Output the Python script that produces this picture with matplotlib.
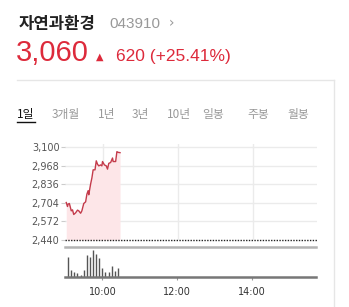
import matplotlib
matplotlib.use("Agg")
import matplotlib.pyplot as plt
from matplotlib.lines import Line2D

# stock header
name = "자연과환경"
code = "043910"
price_now = "3,060"
change = "620 (+25.41%)"
tabs = ["1일", "3개월", "1년", "3년", "10년", "일봉", "주봉", "월봉"]

# intraday price, minutes after 9:00
minutes = [2, 4, 5, 7, 10, 12, 14, 17, 20, 22, 25, 27, 30, 33, 35, 37, 38, 41, 43,
           45, 48, 50, 52, 54, 57, 59, 60, 63, 66, 68, 70, 73, 76, 77, 81, 83, 85, 88]
prices = [2706, 2678, 2695, 2699, 2647, 2654, 2621, 2633, 2652, 2647, 2630, 2647,
          2699, 2711, 2765, 2790, 2761, 2838, 2880, 2938, 2938, 3002, 2978, 2966,
          2973, 2966, 2997, 2973, 2966, 2943, 2984, 2990, 3022, 2997, 2997, 3067,
          3062, 3060]
yticks = [2440, 2572, 2704, 2836, 2968, 3100]

# 5 minute volume bars (9:05 .. 10:25)
vol_minutes = [5, 10, 15, 20, 25, 30, 35, 40, 45, 50, 55, 60, 65, 70, 75, 80, 85]
volumes = [200, 70, 50, 37, 20, 70, 220, 200, 270, 230, 190, 87, 50, 50, 110, 60, 93]

xtick_pos = [60, 180, 300]
xtick_lab = ["10:00", "12:00", "14:00"]

W, H = 349, 307
fig = plt.figure(figsize=(W / 100, H / 100), dpi=100)
fig.patch.set_facecolor("white")

def fx(px):
    return px / W

def fy(py):
    return 1 - py / H

red = "#dd2a3b"
kr = ["Noto Sans CJK KR", "DejaVu Sans"]

# header text
fig.text(fx(19), fy(24), name, family=kr, fontsize=12, fontweight="bold", color="#222", va="center")
fig.text(fx(109), fy(24), code, family="Liberation Sans", fontsize=11, color="#999", va="center")
fig.text(fx(169), fy(23), "›", family="DejaVu Sans", fontsize=10, color="#999", va="center")
fig.text(fx(16), fy(53), price_now, family="Liberation Sans", fontsize=21, color=red, va="center")
fig.text(fx(96), fy(57), "▲", family="DejaVu Sans", fontsize=7, color=red, va="center")
fig.text(fx(116), fy(57), change, family="Liberation Sans", fontsize=12.5, color=red, va="center")

# tabs
tab_x = [17, 52, 98, 132, 167, 202, 247, 287]
for t, x in zip(tabs, tab_x):
    c = "#111" if t == "1일" else "#999"
    fig.text(fx(x), fy(115), t, family=kr, fontsize=8.5, color=c, va="center")
fig.add_artist(Line2D([fx(17), fx(35)], [fy(121.5), fy(121.5)], color="#111", lw=1))

# box lines
fig.add_artist(Line2D([fx(17), fx(334)], [fy(80), fy(80)], color="#e6e6e6", lw=1))
fig.add_artist(Line2D([fx(334), fx(334)], [fy(80), fy(307)], color="#e6e6e6", lw=1))

# price panel
left, right = 65, 317
ax = fig.add_axes([fx(left), fy(240), (right - left) / W, (240 - 144) / H])
ax.set_xlim(0, 403)
ax.set_ylim(2440, 3100 + 132 * 3 / 18.5)
for v in yticks[1:]:
    ax.axhline(v, color="#ebebeb", lw=1, zorder=0)
for m in xtick_pos:
    ax.axvline(m, color="#ebebeb", lw=1, zorder=0)
ax.fill_between(minutes, prices, 2440, color="#fde6e8", lw=0, zorder=1)
ax.plot(minutes, prices, color="#c43a4a", lw=1, zorder=2)
ax.axhline(2440, color="#222", lw=1, ls=(0, (1, 1)), zorder=3, clip_on=False)
ax.set_yticks(yticks)
ax.set_yticklabels([f"{v:,}" for v in yticks])
ax.tick_params(axis="y", length=3, width=0.8, color="#ccc", pad=1, labelsize=7, labelcolor="#555")
ax.set_xticks([])
for s in ax.spines.values():
    s.set_visible(False)

# volume panel
vx = fig.add_axes([fx(left), fy(277), (316 - left) / W, (277 - 247) / H])
vx.set_xlim(0, 403)
vx.set_ylim(0, max(volumes) * 30 / 27)
vx.vlines(vol_minutes, 0, volumes, color="#555", lw=1)
vx.set_yticks([])
vx.set_xticks(xtick_pos)
vx.set_xticklabels(xtick_lab)
vx.tick_params(axis="x", length=2, color="#999", pad=5, labelsize=7, labelcolor="#333")
for k in ["left", "right"]:
    vx.spines[k].set_visible(False)
vx.spines["top"].set_color("#b3b3b3")
vx.spines["top"].set_linewidth(1.8)
vx.spines["bottom"].set_color("#777")
vx.spines["bottom"].set_linewidth(1.8)

fig.savefig("out.png", dpi=100, facecolor="white")
